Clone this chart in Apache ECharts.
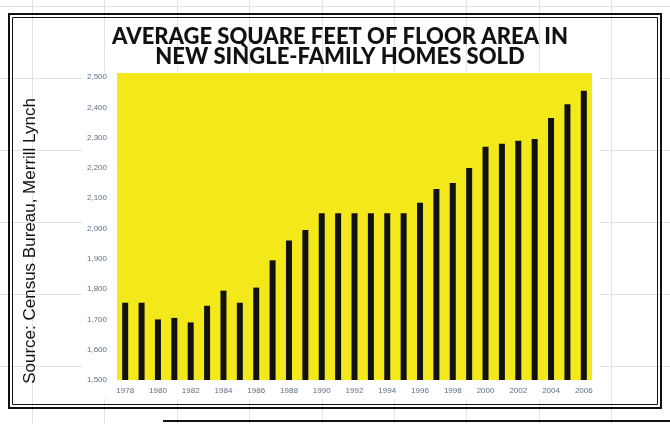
<!DOCTYPE html>
<html>
<head>
<meta charset="utf-8">
<script src="https://cdn.jsdelivr.net/npm/echarts@6/dist/echarts.min.js"></script>
<style>
  html, body { margin: 0; padding: 0; background: #ffffff; }
  #stage { position: relative; width: 670px; height: 424px; }
  #frame, #chart { position: absolute; left: 0; top: 0; width: 670px; height: 424px; }
  #chart { filter: blur(0.7px); }
</style>
</head>
<body>
<div id="stage">
  <div id="frame"></div>
  <div id="chart"></div>
</div>
<script>
// Years shown on the category axis
const years = ['1978','1979','1980','1981','1982','1983','1984','1985','1986','1987',
               '1988','1989','1990','1991','1992','1993','1994','1995','1996','1997',
               '1998','1999','2000','2001','2002','2003','2004','2005','2006'];
// Average floor area (square feet)
const avgSqFt = [1755,1755,1700,1705,1690,1745,1795,1755,1805,1895,
                 1960,1995,2050,2050,2050,2050,2050,2050,2085,2130,
                 2150,2200,2270,2280,2290,2295,2365,2410,2455];
// Value axis range
const yMin = 1500, yMax = 2500, yStep = 100;

const titleLines = ['AVERAGE SQUARE FEET OF FLOOR AREA IN', 'NEW SINGLE-FAMILY HOMES SOLD'];
const sourceText = 'Source: Census Bureau, Merrill Lynch';

// ---- page layer: sheet grid, double frame, heading, source note ----
const frame = echarts.init(document.getElementById('frame'), null, { renderer: 'canvas' });
const sheet = [];
const lineStyle = { stroke: '#e3e3e3', lineWidth: 1 };
for (let x = 32; x < 670; x += 72.4) {
  sheet.push({ type: 'line', shape: { x1: Math.round(x) + 0.5, y1: 0, x2: Math.round(x) + 0.5, y2: 424 }, style: lineStyle, silent: true });
}
for (let y = 6; y < 424; y += 72) {
  sheet.push({ type: 'line', shape: { x1: 0, y1: y + 0.5, x2: 670, y2: y + 0.5 }, style: lineStyle, silent: true });
}
frame.setOption({
  animation: false,
  graphic: [
    ...sheet,
    // double border
    { type: 'rect', shape: { x: 9, y: 14, width: 652, height: 394 }, style: { fill: null, stroke: '#111', lineWidth: 2 } },
    { type: 'rect', shape: { x: 12.5, y: 17.5, width: 645, height: 387 }, style: { fill: null, stroke: '#111', lineWidth: 1 } },
    // line of the box below
    { type: 'line', shape: { x1: 163, y1: 421, x2: 670, y2: 421 }, style: { stroke: '#111', lineWidth: 2 } },
    // heading
    { type: 'text', x: 340, y: 37, style: { text: titleLines[0], font: '900 22px Lato', fill: '#111', align: 'center', verticalAlign: 'middle' } },
    { type: 'text', x: 340, y: 57, style: { text: titleLines[1], font: '900 22px Lato', fill: '#111', align: 'center', verticalAlign: 'middle' } },
    // source note, reading bottom to top
    { type: 'text', x: 30, y: 241, rotation: Math.PI / 2, style: { text: sourceText, font: '17px "Liberation Sans"', fill: '#111', align: 'center', verticalAlign: 'middle' } }
  ]
});

// ---- chart layer ----
const chart = echarts.init(document.getElementById('chart'), null, { renderer: 'canvas' });
chart.setOption({
  animation: false,
  graphic: [
    { type: 'rect', z: -10, shape: { x: 82, y: 71, width: 518, height: 328 }, style: { fill: '#ffffff' } },
    { type: 'rect', z: -9, shape: { x: 117, y: 73, width: 475, height: 6 }, style: { fill: '#F3E81A' } }
  ],
  grid: {
    left: 117, right: 78, top: 77, bottom: 44,
    show: true, backgroundColor: '#F3E81A', borderWidth: 0
  },
  xAxis: {
    type: 'category',
    data: years,
    axisLine: { show: false },
    axisTick: { show: false },
    axisLabel: { interval: 1, fontSize: 8, color: '#5d6f86', margin: 7, fontFamily: 'Liberation Sans' }
  },
  yAxis: {
    type: 'value',
    min: yMin, max: yMax, interval: yStep,
    axisLine: { show: false },
    axisTick: { show: false },
    splitLine: { show: false },
    axisLabel: { fontSize: 8, color: '#5d6f86', margin: 10, fontFamily: 'Liberation Sans' }
  },
  series: [{
    type: 'bar',
    data: avgSqFt,
    barWidth: 6,
    itemStyle: { color: '#111111' }
  }]
});
</script>
</body>
</html>
